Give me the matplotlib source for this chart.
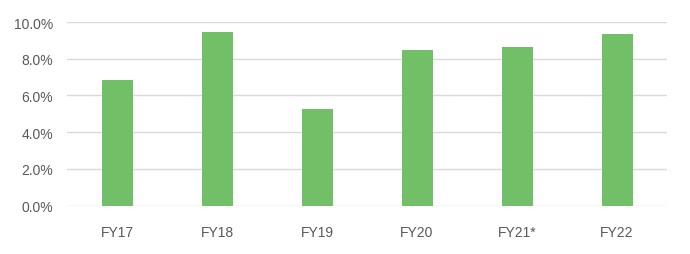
import matplotlib
matplotlib.use("Agg")
import matplotlib.pyplot as plt
from matplotlib.ticker import PercentFormatter

years = ["FY17", "FY18", "FY19", "FY20", "FY21*", "FY22"]
growth = [6.84, 9.46, 5.26, 8.48, 8.64, 9.35]
yticks = [0, 2, 4, 6, 8, 10]

plt.rcParams['font.family'] = ['Liberation Sans', 'DejaVu Sans']

fig = plt.figure(figsize=(6.9, 2.55), dpi=100, facecolor='w')
ax = fig.add_axes([0.0971, 0.1894, 0.8696, 0.7204])

ax.bar(range(len(years)), growth, width=0.31, color='#71BF66', zorder=3)

ax.set_xlim(-0.5, len(years) - 0.5)
ax.set_ylim(0, 10)
ax.set_yticks(yticks)
ax.yaxis.set_major_formatter(PercentFormatter(decimals=1))
ax.set_xticks(range(len(years)))
ax.set_xticklabels(years)

ax.grid(axis='y', color='#d9d9d9', linewidth=1.0, zorder=0)
for s in ax.spines.values():
    s.set_visible(False)
ax.tick_params(axis='both', length=0, labelsize=10, colors='#595959')
ax.tick_params(axis='y', pad=10)
ax.tick_params(axis='x', pad=14)

fig.savefig('out.png', dpi=100)
